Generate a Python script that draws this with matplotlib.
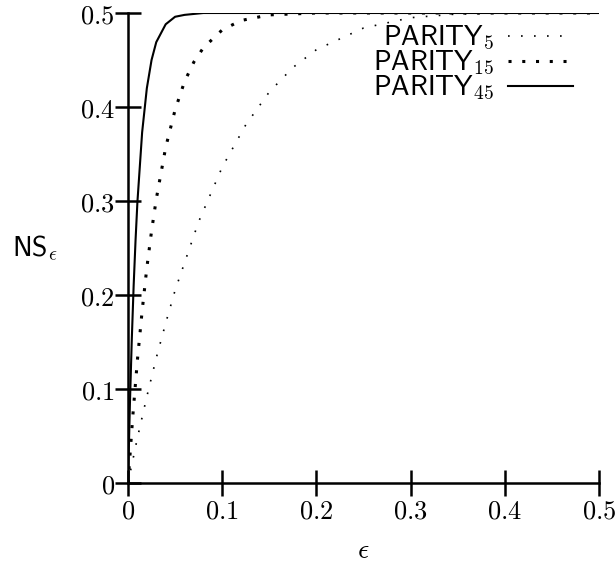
import numpy as np
import matplotlib.pyplot as plt

plt.rcParams['mathtext.fontset'] = 'cm'
plt.rcParams['font.family'] = 'serif'

# values
eps5 = [0, 0.01, 0.02, 0.03, 0.04, 0.05, 0.075, 0.1, 0.125, 0.15, 0.175, 0.2,
        0.25, 0.3, 0.35, 0.4, 0.5]
ns5 = [0, 0.048, 0.092, 0.133, 0.170, 0.205, 0.278, 0.336, 0.381, 0.416, 0.442,
       0.461, 0.484, 0.495, 0.499, 0.5, 0.5]

eps15 = [0, 0.005, 0.01, 0.015, 0.02, 0.025, 0.03, 0.04, 0.05, 0.06, 0.07, 0.08,
         0.1, 0.12, 0.15, 0.2, 0.5]
ns15 = [0, 0.070, 0.131, 0.183, 0.229, 0.268, 0.302, 0.357, 0.397, 0.427, 0.448,
        0.463, 0.482, 0.492, 0.498, 0.5, 0.5]

eps45 = [0, 0.002, 0.004, 0.006, 0.008, 0.01, 0.015, 0.02, 0.025, 0.03, 0.04,
         0.05, 0.06, 0.08, 0.5]
ns45 = [0, 0.083, 0.152, 0.210, 0.258, 0.299, 0.373, 0.420, 0.450, 0.469, 0.488,
        0.496, 0.498, 0.5, 0.5]

labels = [r'$\mathsf{PARITY}_{5}$', r'$\mathsf{PARITY}_{15}$', r'$\mathsf{PARITY}_{45}$']
xticks = [0, 0.1, 0.2, 0.3, 0.4, 0.5]
yticks = [0, 0.1, 0.2, 0.3, 0.4, 0.5]

fig = plt.figure(figsize=(6.16, 5.63), dpi=100)
ax = fig.add_axes([128/616, 80/563, 471/616, 470/563])

l5, = ax.plot(eps5, ns5, color='black', lw=1.2, linestyle=(0, (1, 6.8)),
              dash_capstyle='butt', label=labels[0])
l15, = ax.plot(eps15, ns15, color='black', lw=2.2, linestyle=(0, (1, 3.5)),
               dash_capstyle='butt', label=labels[1])
l45, = ax.plot(eps45, ns45, color='black', lw=1.5, label=labels[2])

ax.set_xlim(0, 0.5)
ax.set_ylim(0, 0.5)
ax.spines['top'].set_visible(False)
ax.spines['right'].set_visible(False)
ax.spines['left'].set_linewidth(1.8)
ax.spines['bottom'].set_linewidth(1.8)
ax.set_xticks(xticks)
ax.set_yticks(yticks)
ax.set_xticklabels(['$%g$' % t for t in xticks])
ax.set_yticklabels(['$%g$' % t for t in yticks])
ax.tick_params(direction='inout', length=19, width=1.8, labelsize=19)
ax.tick_params(axis='x', pad=2)
ax.tick_params(axis='y', pad=0)

ax.set_xlabel(r'$\epsilon$', fontsize=20, va='center')
ax.xaxis.set_label_coords(0.5, -67/470)
ax.set_ylabel(r'$\mathsf{NS}_{\epsilon}$', fontsize=20, rotation=0, va='center')
ax.yaxis.set_label_coords(-0.197, 0.5)

# one legend per row so the labels line up on their right edge
row_y = [38, 63, 88]
for line, yy in zip([l5, l15, l45], row_y):
    leg = fig.legend(handles=[line], loc='center right',
                     bbox_to_anchor=(573/616, 1 - yy/563), frameon=False,
                     markerfirst=False, fontsize=20, handlelength=2.34,
                     handletextpad=0.5, borderpad=0, borderaxespad=0)

fig.savefig('out.png', dpi=100)
